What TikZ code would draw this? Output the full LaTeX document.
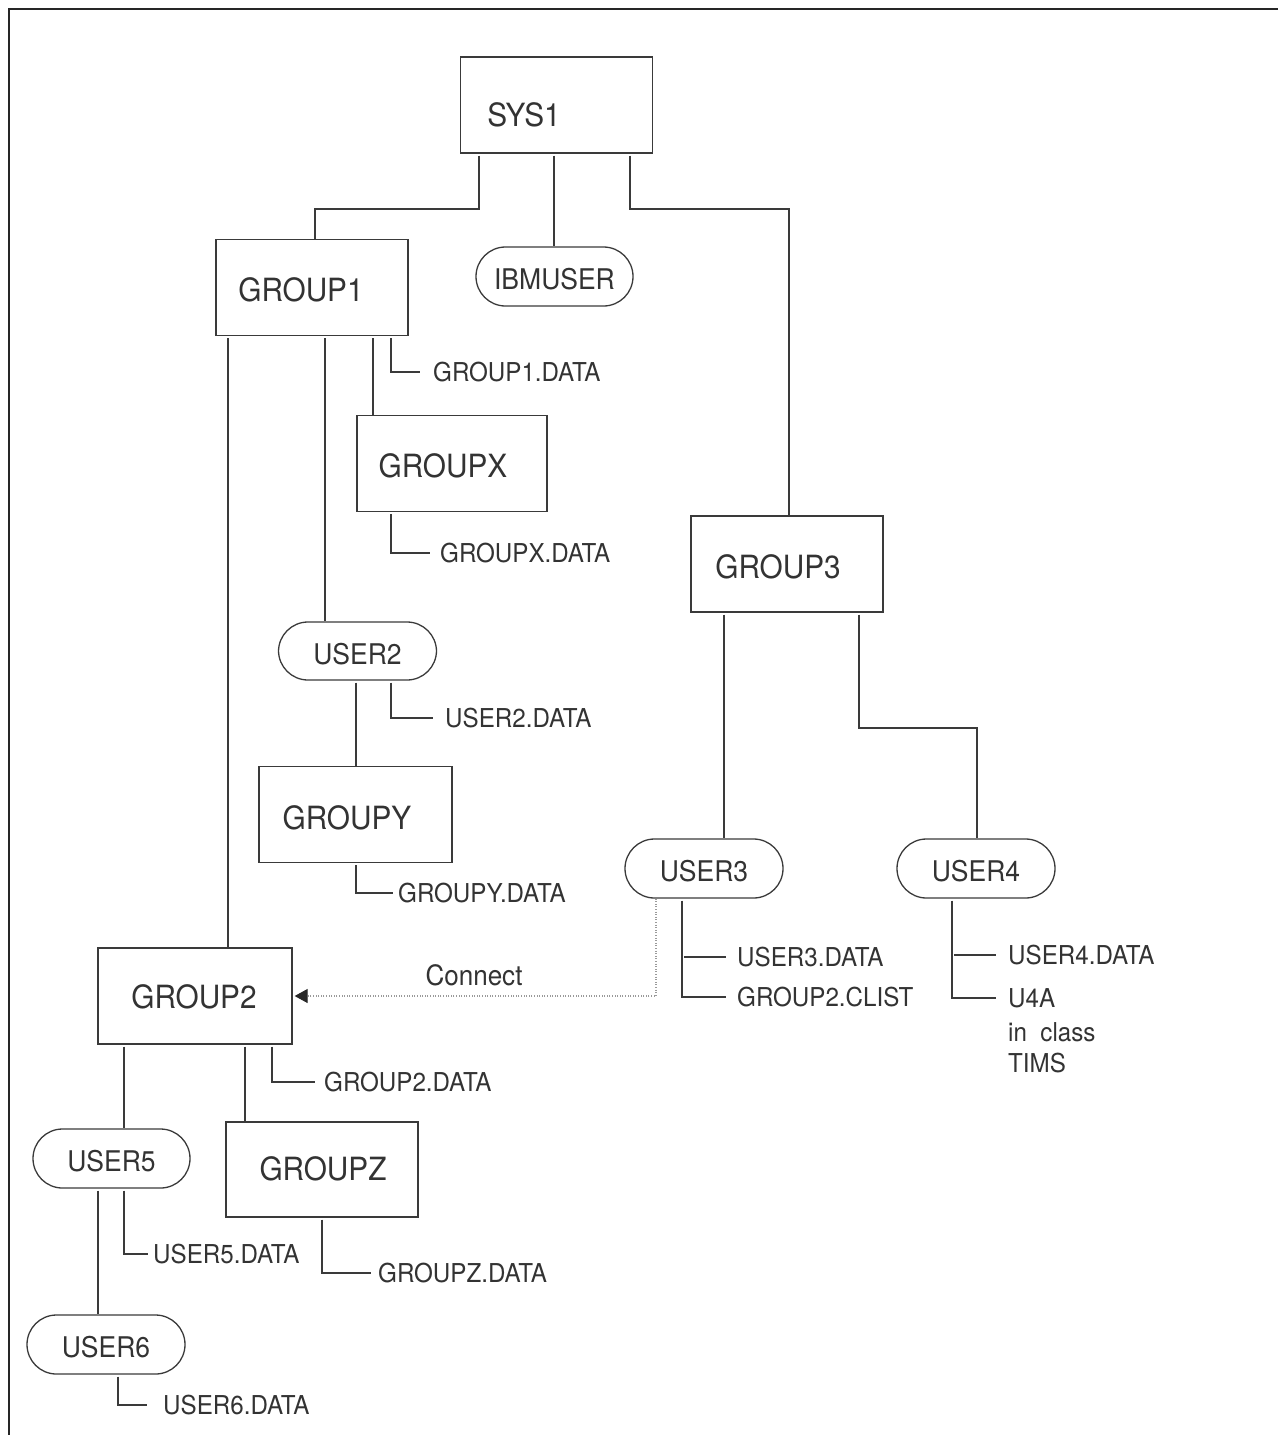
\documentclass[tikz,border=0pt]{standalone}
\usepackage{fontspec}
\setmainfont[FakeStretch=0.93]{TeX Gyre Heros}
\usetikzlibrary{arrows.meta}
\definecolor{txt}{HTML}{333333}
\definecolor{ln}{HTML}{3A3A3A}
\definecolor{dotc}{HTML}{9A9A9A}
\begin{document}
\begin{tikzpicture}[x=1pt,y=-1pt,
  gbox/.style={draw=ln, line width=1.3pt, inner sep=0pt, minimum width=192pt, minimum height=96pt},
  pill/.style={draw=ln, line width=1.3pt, rounded corners=29.5pt, minimum width=158pt, minimum height=59pt,
    inner sep=0pt, font=\fontsize{28.5}{34}\selectfont, text=txt, text height=26.5pt, text depth=0pt},
  bigtxt/.style={font=\fontsize{32}{38}\selectfont, text=txt, inner sep=0pt, text height=23pt, text depth=0pt},
  datatxt/.style={font=\fontsize{26}{31}\selectfont, text=txt, anchor=west, inner ysep=0pt, inner xsep=#1,
    text height=18.7pt, text depth=0pt},
  datatxt/.default=10pt,
  conn/.style={draw=ln, line width=1.3pt, shorten <=2pt},
  dotconn/.style={draw=dotc, line width=1.1pt, dash pattern=on 1pt off 1.6pt},
  frame/.style={draw=black!85, line width=2.4pt}
]
\useasboundingbox (0,0) rectangle (1278,1435);
\draw[frame] (9,1435) -- (9,9) -- (1278,9);

% boxes
\node[gbox] (sys1) at (556.5,105) {};
\node[bigtxt] (sys1t) at (524,115) {SYS1};
\node[gbox] (g1) at (312,287.5) {};
\node[bigtxt] (g1t) at (301,290) {GROUP1};
\node[gbox, minimum width=190pt] (gx) at (452,463.5) {};
\node[bigtxt] (gxt) at (443,466) {GROUPX};
\node[gbox] (g3) at (787,564) {};
\node[bigtxt] (g3t) at (778,567) {GROUP3};
\node[gbox, minimum width=193pt] (gy) at (355.5,814.5) {};
\node[bigtxt] (gyt) at (347,818) {GROUPY};
\node[gbox, minimum width=194pt] (g2) at (195,996) {};
\node[bigtxt] (g2t) at (194,997) {GROUP2};
\node[gbox, minimum height=95pt] (gz) at (322,1169.5) {};
\node[bigtxt] (gzt) at (323,1169) {GROUPZ};

% pills
\node[pill, minimum width=157pt] (ibm) at (554.5,276.5) {IBMUSER};
\node[pill, minimum height=58pt] (u2) at (357.5,651) {USER2};
\node[pill] (u3) at (704,868.5) {USER3};
\node[pill] (u4) at (976,868.5) {USER4};
\node[pill, minimum width=157pt] (u5) at (111.5,1158.5) {USER5};
\node[pill] (u6) at (106,1344.5) {USER6};

% data labels
\node[datatxt=13pt] (g1d) at (420,372) {GROUP1.DATA};
\node[datatxt=10pt] (gxd) at (430,553) {GROUPX.DATA};
\node[datatxt=12pt] (u2d) at (433,718) {USER2.DATA};
\node[datatxt=5pt] (gyd) at (393,893) {GROUPY.DATA};
\node[datatxt=11pt] (u3d) at (726,957) {USER3.DATA};
\node[datatxt=11pt] (g2c) at (726,997) {GROUP2.CLIST};
\node[datatxt=12pt] (u4d) at (996,955) {USER4.DATA};
\node[datatxt=12pt] (u4a) at (996,998) {U4A};
\node[datatxt=12pt] (u4b) at (996,1032) {in\ \ class};
\node[datatxt=12pt] (u4c) at (996,1063) {TIMS};
\node[datatxt=9pt] (g2d) at (315,1082) {GROUP2.DATA};
\node[datatxt=5pt] (u5d) at (148,1254) {USER5.DATA};
\node[datatxt=7pt] (gzd) at (371,1273) {GROUPZ.DATA};
\node[datatxt=16pt] (u6d) at (147,1405) {USER6.DATA};
\node[font=\fontsize{28}{33}\selectfont, text=txt, inner sep=0pt, text height=20.1pt, text depth=0pt] (connect) at (474,975) {Connect};

% connectors
\draw[conn] (sys1.south -| 479,0) -- (479,209) -- (315,209) -- (g1.north -| 315,0);
\draw[conn] (sys1.south -| 554,0) -- (ibm.north -| 554,0);
\draw[conn] (sys1.south -| 630,0) -- (630,209) -- (789,209) -- (g3.north -| 789,0);
\draw[conn] (g1.south -| 228,0) -- (g2.north -| 228,0);
\draw[conn] (g1.south -| 325,0) -- (u2.north -| 325,0);
\draw[conn] (g1.south -| 373,0) -- (gx.north -| 373,0);
\draw[conn] (g1.south -| 391,0) |- (g1d.west);
\draw[conn] (gx.south -| 391,0) |- (gxd.west);
\draw[conn] (u2.south -| 356,0) -- (gy.north -| 356,0);
\draw[conn] (u2.south -| 391,0) |- (u2d.west);
\draw[conn] (gy.south -| 356,0) |- (gyd.west);
\draw[conn] (g3.south -| 724,0) -- (u3.north -| 724,0);
\draw[conn] (g3.south -| 859,0) -- (859,728) -- (977,728) -- (u4.north -| 977,0);
\draw[conn] (u3.south -| 682,0) |- (g2c.west);
\draw[conn] (u3d.west -| 682,0) -- (u3d.west);
\draw[dotconn, -{Triangle[length=13pt,width=14pt,color=black!85]}] (u3.south -| 656,0) |- ([xshift=2pt]g2.east);
\draw[conn] (u4.south -| 952,0) |- (u4a.west);
\draw[conn] (u4d.west -| 952,0) -- (u4d.west);
\draw[conn] (g2.south -| 124,0) -- (u5.north -| 124,0);
\draw[conn] (g2.south -| 245,0) -- (gz.north -| 245,0);
\draw[conn] (g2.south -| 272,0) |- (g2d.west);
\draw[conn] (u5.south -| 98,0) -- (u6.north -| 98,0);
\draw[conn] (u5.south -| 124,0) |- (u5d.west);
\draw[conn] (gz.south -| 322,0) |- (gzd.west);
\draw[conn] (u6.south -| 118,0) |- (u6d.west);
\end{tikzpicture}
\end{document}
